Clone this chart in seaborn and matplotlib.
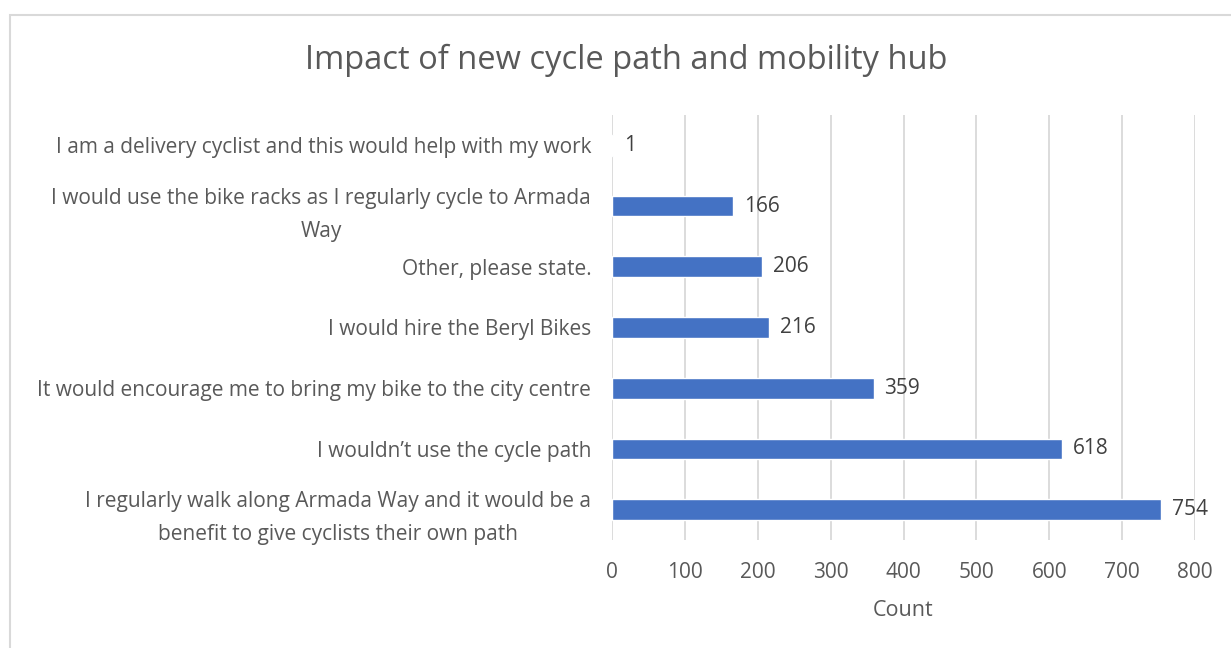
import matplotlib
matplotlib.use("Agg")
import matplotlib.pyplot as plt
import seaborn as sns
import pandas as pd
from matplotlib.patches import Rectangle

categories = [
    "I am a delivery cyclist and this would help with my work",
    "I would use the bike racks as I regularly cycle to Armada\nWay",
    "Other, please state.",
    "I would hire the Beryl Bikes",
    "It would encourage me to bring my bike to the city centre",
    "I wouldn\u2019t use the cycle path",
    "I regularly walk along Armada Way and it would be a\nbenefit to give cyclists their own path",
]
counts = [1, 166, 206, 216, 359, 618, 754]
x_ticks = [0, 100, 200, 300, 400, 500, 600, 700, 800]

sns.set_theme(style="white")
plt.rcParams["font.family"] = ["Open Sans", "DejaVu Sans"]

W, H = 1231, 648
fig = plt.figure(figsize=(W / 100, H / 100), dpi=100)
ax = fig.add_axes([612 / W, 1 - 540 / H, (1195 - 612) / W, (540 - 115) / H])

df = pd.DataFrame({"cat": categories, "count": counts})
sns.barplot(data=df, x="count", y="cat", color="#4472C4", width=0.34,
            saturation=1, ax=ax, orient="h")

ax.set_xlim(0, 800)
ax.set_xticks(x_ticks)
ax.set_xticklabels([str(t) for t in x_ticks])
ax.xaxis.grid(True, color="#d9d9d9", linewidth=1.3)
ax.set_axisbelow(True)
for s in ax.spines.values():
    s.set_visible(False)
ax.tick_params(axis="both", length=0, colors="#595959")
ax.tick_params(axis="x", pad=16, labelsize=15)
ax.tick_params(axis="y", pad=15, labelsize=15)
for lbl in ax.get_yticklabels():
    lbl.set_multialignment("center")
    lbl.set_linespacing(1.75)
ax.set_ylabel("")
ax.set_xlabel("Count", fontsize=15.5, color="#595959", labelpad=12)

for i, v in enumerate(counts):
    ax.text(v + 15, i, str(v), va="center", ha="left", fontsize=15,
            color="#404040")

fig.text(626 / W, 1 - 60 / H, "Impact of new cycle path and mobility hub",
         ha="center", va="center", fontsize=23.5, color="#595959")

border = Rectangle((10 / W, -1), 2, 1 + (1 - 15 / H), transform=fig.transFigure,
                   fill=False, edgecolor="#d9d9d9", linewidth=1.5)
fig.patches.append(border)

fig.savefig("out.png", dpi=100, facecolor="white")
